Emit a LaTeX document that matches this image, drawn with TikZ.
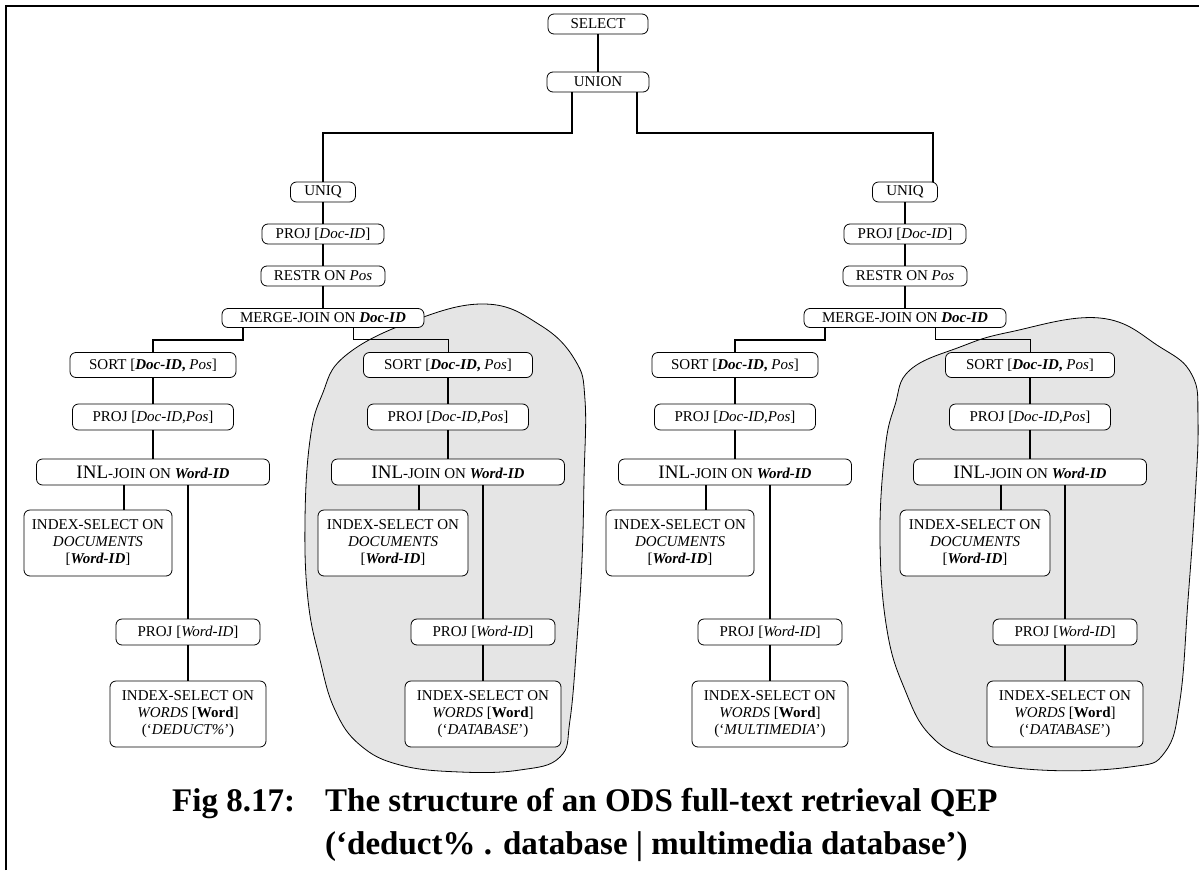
\documentclass[tikz,border=0pt]{standalone}
\usepackage{fontspec}
\setmainfont{Liberation Serif}
\usepackage{tikz}

\begin{document}
\begin{tikzpicture}[
    x=1pt, y=-1pt,
    node distance=42pt,
    font=\fontsize{15}{17}\selectfont,
    % Node styles:
    op/.style={rectangle, draw, rounded corners=6pt, fill=white, align=center,
               line width=0.8pt, inner sep=1pt, minimum height=20pt},
    tall/.style={op, minimum height=26pt},
    leaf/.style={op, minimum height=66pt},
    % Line styles:
    link/.style={line width=2pt},
    zone/.style={draw, line width=0.8pt, fill=black!10},
    frame/.style={line width=2.5pt},
    caption/.style={font=\fontsize{33}{36}\selectfont\bfseries, inner sep=0pt},
]
\useasboundingbox (0,0) rectangle (1199,870);

% --- SHADED ZONES (drawn first, nodes go on top) ---
\draw[zone] plot[smooth cycle, tension=0.7] coordinates {
    (485,304) (540,325) (575,360) (585,400) (584,480) (582,560) (577,640)
    (570,720) (560,757) (520,770) (460,772) (400,765) (360,745) (335,710)
    (320,660) (308,600) (305,520) (310,440) (322,395) (345,356) (410,322)};
\draw[zone] plot[smooth cycle, tension=0.7] coordinates {
    (1100,318) (1160,347) (1192,375) (1198,420) (1195,500) (1188,600)
    (1180,700) (1165,752) (1130,767) (1040,770) (970,758) (930,735)
    (905,690) (887,630) (880,540) (885,450) (895,405) (910,370) (960,347)
    (1010,332)};

% page frame
\draw[frame] (6,870) -- (6,6) -- (1199,6);

% --- NODES ---
\node[op, minimum width=100pt] (select) at (598,24) {SELECT};
\node[op, minimum width=102pt, below of=select, yshift=-16pt] (union) {UNION};

% left half: 'deduct%' . 'database'
\node[op, minimum width=65pt] (uniqL) at (323,192) {UNIQ};
\node[op, minimum width=122pt, below of=uniqL] (projL) {PROJ [\textit{Doc-ID}]};
\node[op, minimum width=124pt, below of=projL] (restrL) {RESTR ON \textit{Pos}};
\node[op, minimum width=202pt, minimum height=19pt, below of=restrL] (mergeL)
      {MERGE-JOIN ON \textbf{\textit{Doc-ID}}};

\node[op, minimum width=166pt, minimum height=25pt, below of=mergeL, xshift=-170pt, yshift=-5pt] (sortL1)
      {SORT [\textbf{\textit{Doc-ID},} \textit{Pos}]};
\node[tall, minimum width=161pt, below of=sortL1, yshift=-10pt] (projdpL1) {PROJ [\textit{Doc-ID},\textit{Pos}]};
\node[tall, minimum width=233pt, below of=projdpL1, yshift=-13pt] (inlL1)
      {{\fontsize{19}{19}\selectfont INL}-JOIN ON \textbf{\textit{Word-ID}}};
\node[leaf, minimum width=148pt, below of=inlL1, xshift=-55pt, yshift=-29pt] (idxdocL1)
      {INDEX-SELECT ON\\\textit{DOCUMENTS}\\{[}\textbf{\textit{Word-ID}}{]}};
\node[tall, minimum width=144pt, below of=inlL1, xshift=35pt, yshift=-118pt] (projwL1) {PROJ [\textit{Word-ID}]};
\node[leaf, minimum width=156pt, below of=projwL1, yshift=-40pt] (idxwL1)
      {INDEX-SELECT ON\\\textit{WORDS} [\textbf{Word}]\\(‘\textit{DEDUCT\%}’)};

\node[op, minimum width=169pt, minimum height=25pt, right of=sortL1, xshift=253pt] (sortL2)
      {SORT [\textbf{\textit{Doc-ID},} \textit{Pos}]};
\node[tall, minimum width=161pt, below of=sortL2, yshift=-10pt] (projdpL2) {PROJ [\textit{Doc-ID},\textit{Pos}]};
\node[tall, minimum width=233pt, below of=projdpL2, yshift=-13pt] (inlL2)
      {{\fontsize{19}{19}\selectfont INL}-JOIN ON \textbf{\textit{Word-ID}}};
\node[leaf, minimum width=150pt, below of=inlL2, xshift=-55pt, yshift=-29pt] (idxdocL2)
      {INDEX-SELECT ON\\\textit{DOCUMENTS}\\{[}\textbf{\textit{Word-ID}}{]}};
\node[tall, minimum width=144pt, below of=inlL2, xshift=35pt, yshift=-118pt] (projwL2) {PROJ [\textit{Word-ID}]};
\node[leaf, minimum width=156pt, below of=projwL2, yshift=-40pt] (idxwL2)
      {INDEX-SELECT ON\\\textit{WORDS} [\textbf{Word}]\\(‘\textit{DATABASE}’)};

% right half: 'multimedia' . 'database'
\node[op, minimum width=65pt] (uniqR) at (905,192) {UNIQ};
\node[op, minimum width=122pt, below of=uniqR] (projR) {PROJ [\textit{Doc-ID}]};
\node[op, minimum width=124pt, below of=projR] (restrR) {RESTR ON \textit{Pos}};
\node[op, minimum width=202pt, minimum height=19pt, below of=restrR] (mergeR)
      {MERGE-JOIN ON \textbf{\textit{Doc-ID}}};

\node[op, minimum width=166pt, minimum height=25pt, below of=mergeR, xshift=-170pt, yshift=-5pt] (sortR1)
      {SORT [\textbf{\textit{Doc-ID},} \textit{Pos}]};
\node[tall, minimum width=161pt, below of=sortR1, yshift=-10pt] (projdpR1) {PROJ [\textit{Doc-ID},\textit{Pos}]};
\node[tall, minimum width=233pt, below of=projdpR1, yshift=-13pt] (inlR1)
      {{\fontsize{19}{19}\selectfont INL}-JOIN ON \textbf{\textit{Word-ID}}};
\node[leaf, minimum width=148pt, below of=inlR1, xshift=-55pt, yshift=-29pt] (idxdocR1)
      {INDEX-SELECT ON\\\textit{DOCUMENTS}\\{[}\textbf{\textit{Word-ID}}{]}};
\node[tall, minimum width=144pt, below of=inlR1, xshift=35pt, yshift=-118pt] (projwR1) {PROJ [\textit{Word-ID}]};
\node[leaf, minimum width=156pt, below of=projwR1, yshift=-40pt] (idxwR1)
      {INDEX-SELECT ON\\\textit{WORDS} [\textbf{Word}]\\(‘\textit{MULTIMEDIA}’)};

\node[op, minimum width=169pt, minimum height=25pt, right of=sortR1, xshift=253pt] (sortR2)
      {SORT [\textbf{\textit{Doc-ID},} \textit{Pos}]};
\node[tall, minimum width=161pt, below of=sortR2, yshift=-10pt] (projdpR2) {PROJ [\textit{Doc-ID},\textit{Pos}]};
\node[tall, minimum width=233pt, below of=projdpR2, yshift=-13pt] (inlR2)
      {{\fontsize{19}{19}\selectfont INL}-JOIN ON \textbf{\textit{Word-ID}}};
\node[leaf, minimum width=150pt, below of=inlR2, xshift=-55pt, yshift=-29pt] (idxdocR2)
      {INDEX-SELECT ON\\\textit{DOCUMENTS}\\{[}\textbf{\textit{Word-ID}}{]}};
\node[tall, minimum width=144pt, below of=inlR2, xshift=35pt, yshift=-118pt] (projwR2) {PROJ [\textit{Word-ID}]};
\node[leaf, minimum width=156pt, below of=projwR2, yshift=-40pt] (idxwR2)
      {INDEX-SELECT ON\\\textit{WORDS} [\textbf{Word}]\\(‘\textit{DATABASE}’)};

% caption under the plan
\node[caption, anchor=base west] (figno) at (172,811) {Fig 8.17:};
\node[caption, anchor=base west] (figtitle) at (325,811) {The structure of an ODS full-text retrieval QEP};
\node[caption, anchor=base west] (figquery) at (325,854) {(‘deduct\% . database | multimedia database’)};

% --- CONNECTORS ---
\draw[link] (select) -- (union);
\draw[link] ([xshift=-26pt]union.south) -- ++(0,41) -| (uniqL.north);
\draw[link] ([xshift=39pt]union.south) -- ++(0,41) -| ([xshift=28pt]uniqR.north);

% left half
\draw[link] (uniqL) -- (projL) -- (restrL) -- (mergeL);
\draw[link] ([xshift=-80pt]mergeL.south) -- ++(0,12) -| (sortL1.north);
\draw[line width=1pt] ([xshift=30pt]mergeL.south) -- ++(0,12) -| (sortL2.north);
\draw[link] (sortL1) -- (projdpL1) -- (inlL1);
\draw[link] ([xshift=26pt]idxdocL1.north |- inlL1.south) -- ([xshift=26pt]idxdocL1.north);
\draw[link] (projwL1.north |- inlL1.south) -- (projwL1.north);
\draw[link] (projwL1) -- (idxwL1);
\draw[link] (sortL2) -- (projdpL2) -- (inlL2);
\draw[link] ([xshift=26pt]idxdocL2.north |- inlL2.south) -- ([xshift=26pt]idxdocL2.north);
\draw[link] (projwL2.north |- inlL2.south) -- (projwL2.north);
\draw[link] (projwL2) -- (idxwL2);

% right half
\draw[link] (uniqR) -- (projR) -- (restrR) -- (mergeR);
\draw[link] ([xshift=-80pt]mergeR.south) -- ++(0,12) -| (sortR1.north);
\draw[line width=1pt] ([xshift=30pt]mergeR.south) -- ++(0,12) -| (sortR2.north);
\draw[link] (sortR1) -- (projdpR1) -- (inlR1);
\draw[link] ([xshift=26pt]idxdocR1.north |- inlR1.south) -- ([xshift=26pt]idxdocR1.north);
\draw[link] (projwR1.north |- inlR1.south) -- (projwR1.north);
\draw[link] (projwR1) -- (idxwR1);
\draw[link] (sortR2) -- (projdpR2) -- (inlR2);
\draw[link] ([xshift=26pt]idxdocR2.north |- inlR2.south) -- ([xshift=26pt]idxdocR2.north);
\draw[link] (projwR2.north |- inlR2.south) -- (projwR2.north);
\draw[link] (projwR2) -- (idxwR2);

\end{tikzpicture}
\end{document}
